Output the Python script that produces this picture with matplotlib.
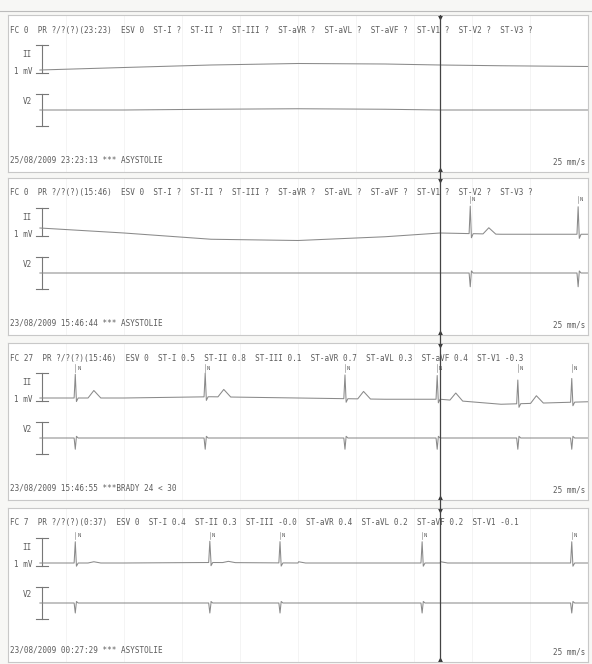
import numpy as np
import matplotlib
matplotlib.use("Agg")
import matplotlib.pyplot as plt

# ---------------- data ----------------
headers = [
    "FC 0  PR ?/?(?)(23:23)  ESV 0  ST-I ?  ST-II ?  ST-III ?  ST-aVR ?  ST-aVL ?  ST-aVF ?  ST-V1 ?  ST-V2 ?  ST-V3 ?",
    "FC 0  PR ?/?(?)(15:46)  ESV 0  ST-I ?  ST-II ?  ST-III ?  ST-aVR ?  ST-aVL ?  ST-aVF ?  ST-V1 ?  ST-V2 ?  ST-V3 ?",
    "FC 27  PR ?/?(?)(15:46)  ESV 0  ST-I 0.5  ST-II 0.8  ST-III 0.1  ST-aVR 0.7  ST-aVL 0.3  ST-aVF 0.4  ST-V1 -0.3",
    "FC 7  PR ?/?(?)(0:37)  ESV 0  ST-I 0.4  ST-II 0.3  ST-III -0.0  ST-aVR 0.4  ST-aVL 0.2  ST-aVF 0.2  ST-V1 -0.1",
]
footers = [
    "25/08/2009 23:23:13 *** ASYSTOLIE",
    "23/08/2009 15:46:44 *** ASYSTOLIE",
    "23/08/2009 15:46:55 ***BRADY 24 < 30",
    "23/08/2009 00:27:29 *** ASYSTOLIE",
]
speed_label = "25 mm/s"
lead_names = ["II", "V2"]
cal_label = "1 mV"

# baseline knots (time s, mV deviation) per panel / lead
base_t = [0.55, 2.0, 3.5, 5.0, 6.5, 7.45, 8.5, 10.0]
base_II = [
    [0.0, 0.10, 0.20, 0.26, 0.24, 0.20, 0.17, 0.14],
    [0.2, 0.0, -0.25, -0.30, -0.15, 0.0, -0.05, -0.05],
    [0.0, 0.0, 0.05, 0.0, -0.05, -0.05, -0.25, -0.15],
    [0.0, 0.0, 0.02, 0.0, 0.0, 0.0, 0.0, 0.0],
]
base_V2 = [
    [0.0, 0.0, 0.03, 0.05, 0.03, 0.0, 0.0, 0.0],
    [0.0, 0.0, 0.0, 0.0, 0.0, 0.0, 0.0, 0.0],
    [0.0, 0.0, 0.0, 0.0, 0.0, 0.0, 0.0, 0.0],
    [0.0, 0.0, 0.0, 0.0, 0.0, 0.0, 0.0, 0.0],
]
# beat times (s) per panel
beats = [
    [],
    [7.97, 9.83],
    [1.16, 3.40, 5.81, 7.40, 8.79, 9.72],
    [1.16, 3.48, 4.69, 7.14, 9.72],
]
amp_II = [0.0, 1.1, 0.95, 0.85]
amp_V2 = [0.0, -0.55, -0.45, -0.40]
twave_II = [0.0, 0.25, 0.30, 0.05]
event_time = 7.45

# beat template (relative time, relative amplitude)
spike_dt = [-0.02, 0.0, 0.02, 0.05, 0.22, 0.32, 0.44]
spike_a = [0.0, 1.0, -0.15, 0.0, 0.0, None, 0.0]

# ---------------- layout ----------------
W, H = 592, 664
panel_px = [(15, 172), (178, 335), (343, 500), (508, 662)]
x0_px, x1_px = 8, 588
px_per_mv = 25.0

txt_c = "#5c5c5c"
trace_c = "#8a8a8a"
mono = "DejaVu Sans Mono"
fs = 5.5

fig = plt.figure(figsize=(W / 100, H / 100), dpi=100)
fig.patch.set_facecolor("#f7f7f5")


def build_trace(base_vals, btimes, amp, tw):
    t = list(base_t)
    v = list(base_vals)
    for b in btimes:
        for dt, a in zip(spike_dt, spike_a):
            tt = b + dt
            if tt > 10.0:
                continue
            if a is None and tw == 0:
                continue
            aa = tw if a is None else a * amp
            t.append(tt)
            v.append(np.interp(tt, base_t, base_vals) + aa)
    order = np.argsort(t)
    return np.array(t)[order], np.array(v)[order]


for i, (top, bot) in enumerate(panel_px):
    hgt = bot - top
    ax = fig.add_axes([x0_px / W, (H - bot) / H, (x1_px - x0_px) / W, hgt / H])
    ax.set_xlim(0, 10)
    ax.set_ylim(-hgt / px_per_mv, 0)
    ax.set_facecolor("white")
    for s in ax.spines.values():
        s.set_color("#c8c8c8")
        s.set_linewidth(0.8)
    ax.set_xticks([])
    ax.set_yticks([])
    # faint grid
    for g in np.arange(1, 10, 1.0):
        ax.axvline(g, color="#f0f0f0", lw=0.5, zorder=0)

    ax.text(0.03, -0.6, headers[i], fontsize=fs, family=mono, color=txt_c,
            va="center", ha="left")
    ax.text(0.03, -(hgt - 12) / px_per_mv, footers[i], fontsize=fs, family=mono,
            color=txt_c, va="center", ha="left")
    ax.text(9.95, -(hgt - 10) / px_per_mv, speed_label, fontsize=fs, family=mono,
            color=txt_c, va="center", ha="right")

    yII = -55 / px_per_mv
    yV2 = -95 / px_per_mv
    # calibration brackets
    xb = 0.59
    ax.plot([xb, xb], [yII + 1.0, yII - 0.1], color="#777", lw=0.8)
    ax.plot([xb - 0.1, xb + 0.1], [yII + 1.0, yII + 1.0], color="#777", lw=0.8)
    ax.plot([xb - 0.1, xb + 0.1], [yII - 0.1, yII - 0.1], color="#777", lw=0.8)
    ax.plot([xb, xb], [yV2 + 0.65, yV2 - 0.65], color="#777", lw=0.8)
    ax.plot([xb - 0.1, xb + 0.1], [yV2 + 0.65, yV2 + 0.65], color="#777", lw=0.8)
    ax.plot([xb - 0.1, xb + 0.1], [yV2 - 0.65, yV2 - 0.65], color="#777", lw=0.8)
    ax.text(0.33, yII + 0.62, lead_names[0], fontsize=fs, family=mono, color=txt_c,
            ha="center", va="center")
    ax.text(0.27, yII - 0.05, cal_label, fontsize=fs, family=mono, color=txt_c,
            ha="center", va="center")
    ax.text(0.33, yV2 + 0.35, lead_names[1], fontsize=fs, family=mono, color=txt_c,
            ha="center", va="center")

    tI, vI = build_trace(base_II[i], beats[i], amp_II[i], twave_II[i])
    tV, vV = build_trace(base_V2[i], beats[i], amp_V2[i], 0.0)
    ax.plot(tI, yII + vI, color=trace_c, lw=0.75)
    ax.plot(tV, yV2 + vV, color=trace_c, lw=0.75)

    for b in beats[i]:
        ax.text(b + 0.06, yII + amp_II[i] + 0.15, "N", fontsize=fs - 1.5, family=mono,
                color=txt_c, ha="center", va="bottom")
        ax.plot([b, b], [yII + amp_II[i] + 0.1, yII + amp_II[i] + 0.4], color="#999", lw=0.5)

    # event markers
    ax.plot([event_time], [-0.08], marker="v", ms=2.5, color="#333")
    ax.plot([event_time], [-(hgt - 2) / px_per_mv], marker="^", ms=2.5, color="#333")

# event line across all panels
ov = fig.add_axes([x0_px / W, (H - 662) / H, (x1_px - x0_px) / W, (662 - 15) / H])
ov.set_xlim(0, 10)
ov.set_ylim(0, 1)
ov.axis("off")
ov.patch.set_alpha(0)
ov.axvline(event_time, color="#444", lw=0.9)

# top rule
top_ax = fig.add_axes([0, 0, 1, 1])
top_ax.set_xlim(0, W)
top_ax.set_ylim(H, 0)
top_ax.axis("off")
top_ax.patch.set_alpha(0)
top_ax.axhline(11, color="#bbbbbb", lw=0.8)

fig.savefig("out.png", dpi=100, facecolor=fig.get_facecolor())
